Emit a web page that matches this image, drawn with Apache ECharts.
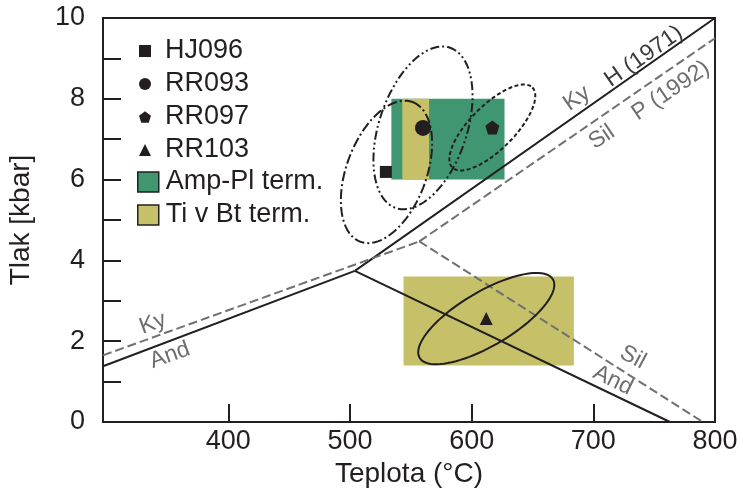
<!DOCTYPE html>
<html>
<head>
<meta charset="utf-8">
<script src="https://cdn.jsdelivr.net/npm/echarts@6/dist/echarts.min.js"></script>
<style>
  html, body { margin: 0; padding: 0; background: #fff; }
  #chart { width: 739px; height: 499px; }
</style>
</head>
<body>
<div id="chart"></div>
<script>
  // samples [T (°C), P (kbar)]
  var hj096 = [[529.5, 6.19]]
  var rr093 = [[560, 7.28]]
  var rr097 = [[617, 7.29]]
  var rr103 = [[612, 2.56]]

  // rectangles [Tmin, Tmax, Pmin, Pmax]
  var ampPl = [[534, 627, 6, 8]]
  var tiBt = [[543, 565, 6, 8], [544, 684, 1.4, 3.6]]

  // ellipses: centre, major half-axis, minor half-axis (T, P)
  var ellCentre = [[560, 7.28], [530, 6.19], [617, 7.29], [612, 2.56]]
  var ellMajor = [[20.5, 2.0], [21.4, 1.73], [32.9, 0.99], [54.8, 0.97]]
  var ellMinor = [[35.2, -0.25], [30.8, -0.34], [12.8, -0.39], [11.2, -0.58]]

  // Holdaway (1971)
  var hKyAnd = [[297, 1.38], [504, 3.74]]
  var hKySil = [[504, 3.74], [800, 10]]
  var hAndSil = [[504, 3.74], [763, 0]]
  // Pattison (1992)
  var pKyAnd = [[297, 1.65], [557, 4.47]]
  var pKySil = [[557, 4.47], [800, 9.5]]
  var pAndSil = [[557, 4.47], [790, 0]]

  var xLabels = [400, 500, 600, 700, 800]
  var xTicks = [400, 500, 600, 700]

  var labelText = ['Ky', 'H (1971)', 'Sil', 'P (1992)', 'Ky', 'And', 'Sil', 'And']
  var labelPos = [[686.5, 8.01], [741.5, 9.05], [707, 7.05], [763.7, 8.2], [338, 2.44], [352, 1.65], [732.5, 1.6], [716, 1.03]]

  var black = '#231f20'
  var grey = '#6e6e6e'
  var green = '#3f9670'
  var olive = '#c6c068'
  var font = 'Arial, "Liberation Sans", sans-serif'
  var pentagon = 'path://M0,-1 L0.951,-0.309 L0.588,0.809 L-0.588,0.809 L-0.951,-0.309 Z'
  var ellDash = [[9, 3, 2, 3, 2, 3], [10, 3, 2, 3], [4, 2.5], null]
  var labelRot = [35, 35, 34, 34, 20, 20, -28, -26]
  var labelColor = [grey, '#3a3a3a', grey, grey, grey, grey, grey, grey]

  function rectSeries(name, data, color, z) {
    return {
      name: name,
      type: 'custom',
      z: z,
      silent: true,
      itemStyle: { color: color },
      data: data,
      renderItem: function (params, api) {
        var p1 = api.coord([api.value(0), api.value(3)])
        var p2 = api.coord([api.value(1), api.value(2)])
        return {
          type: 'rect',
          shape: { x: p1[0], y: p1[1], width: p2[0] - p1[0], height: p2[1] - p1[1] },
          style: { fill: color }
        }
      }
    }
  }

  function lineSeries(data, dashed) {
    return {
      type: 'line',
      data: data,
      showSymbol: false,
      silent: true,
      z: 3,
      lineStyle: {
        color: dashed ? '#707070' : black,
        width: 2,
        type: dashed ? [9, 4] : 'solid'
      }
    }
  }

  function markSeries(name, data, symbol, size) {
    return {
      name: name, type: 'scatter', z: 5, data: data,
      symbol: symbol, symbolSize: size,
      itemStyle: { color: black, opacity: 1 }
    }
  }

  var ellData = ellCentre.map(function (c, i) {
    return [c[0], c[1], ellMajor[i][0], ellMajor[i][1], ellMinor[i][0], ellMinor[i][1]]
  })

  var chart = echarts.init(document.getElementById('chart'))
  chart.setOption({
    animation: false,
    grid: {
      left: 103, right: 24, top: 18, bottom: 77,
      show: true, borderColor: black, borderWidth: 2,
      outerBoundsMode: 'none'
    },
    legend: [{
      orient: 'vertical',
      left: 134,
      top: 31,
      itemWidth: 12,
      itemHeight: 12,
      itemGap: 3,
      selectedMode: false,
      textStyle: { fontFamily: font, fontSize: 27, color: black, lineHeight: 30, padding: [0, 0, 0, 9] },
      data: [
        { name: 'HJ096', icon: 'rect' },
        { name: 'RR093', icon: 'circle' },
        { name: 'RR097', icon: pentagon },
        { name: 'RR103', icon: 'triangle' }
      ]
    }, {
      orient: 'vertical',
      left: 132,
      top: 162,
      itemWidth: 21,
      itemHeight: 20,
      itemGap: 3,
      selectedMode: false,
      textStyle: { fontFamily: font, fontSize: 27, color: black, lineHeight: 30, padding: [0, 0, 0, 2] },
      data: [
        { name: 'Amp-Pl term.', icon: 'rect', itemStyle: { color: green, borderColor: black, borderWidth: 1.5 } },
        { name: 'Ti v Bt term.', icon: 'rect', itemStyle: { color: olive, borderColor: black, borderWidth: 1.5 } }
      ]
    }],
    xAxis: {
      type: 'value',
      min: 297,
      max: 800,
      name: 'Teplota (°C)',
      nameLocation: 'middle',
      nameGap: 30,
      nameTextStyle: { fontFamily: font, fontSize: 28, color: black },
      axisLine: { show: true, lineStyle: { color: black, width: 2 } },
      axisTick: { show: true, inside: true, length: 18, customValues: xTicks, lineStyle: { color: black, width: 2 } },
      axisLabel: { customValues: xLabels, margin: 6, fontFamily: font, fontSize: 27, color: black },
      splitLine: { show: false }
    },
    yAxis: {
      type: 'value',
      min: 0,
      max: 10,
      interval: 1,
      name: 'Tlak [kbar]',
      nameLocation: 'middle',
      nameGap: 68,
      nameTextStyle: { fontFamily: font, fontSize: 28, color: black },
      axisLine: { show: true, lineStyle: { color: black, width: 2 } },
      axisTick: { show: true, inside: true, length: 18, lineStyle: { color: black, width: 2 } },
      axisLabel: {
        margin: 18, fontFamily: font, fontSize: 27, color: black,
        formatter: function (v) { return v % 2 === 0 ? String(v) : '' }
      },
      splitLine: { show: false }
    },
    series: [
      rectSeries('Amp-Pl term.', ampPl, green, 1),
      rectSeries('Ti v Bt term.', tiBt, olive, 2),
      lineSeries(hKyAnd, false),
      lineSeries(hKySil, false),
      lineSeries(hAndSil, false),
      lineSeries(pKyAnd, true),
      lineSeries(pKySil, true),
      lineSeries(pAndSil, true),
      {
        type: 'custom',
        z: 4,
        silent: true,
        data: ellData,
        renderItem: function (params, api) {
          var pts = []
          for (var k = 0; k <= 90; k++) {
            var t = k / 90 * Math.PI * 2
            pts.push(api.coord([
              api.value(0) + api.value(2) * Math.cos(t) + api.value(4) * Math.sin(t),
              api.value(1) + api.value(3) * Math.cos(t) + api.value(5) * Math.sin(t)
            ]))
          }
          var dash = ellDash[params.dataIndex]
          return {
            type: 'polygon',
            shape: { points: pts },
            style: { fill: null, stroke: black, lineWidth: 2, lineDash: dash || null }
          }
        }
      },
      markSeries('HJ096', hj096, 'rect', 12),
      markSeries('RR093', rr093, 'circle', 16),
      markSeries('RR097', rr097, pentagon, 14),
      markSeries('RR103', rr103, 'triangle', 13),
      {
        // phase-boundary labels
        type: 'custom',
        z: 6,
        silent: true,
        data: labelPos,
        renderItem: function (params, api) {
          var p = api.coord([api.value(0), api.value(1)])
          var i = params.dataIndex
          return {
            type: 'text',
            x: p[0],
            y: p[1],
            rotation: labelRot[i] * Math.PI / 180,
            style: {
              text: labelText[i],
              fill: labelColor[i],
              font: '23px ' + font,
              align: 'center',
              verticalAlign: 'middle'
            }
          }
        }
      }
    ]
  })
</script>
</body>
</html>
